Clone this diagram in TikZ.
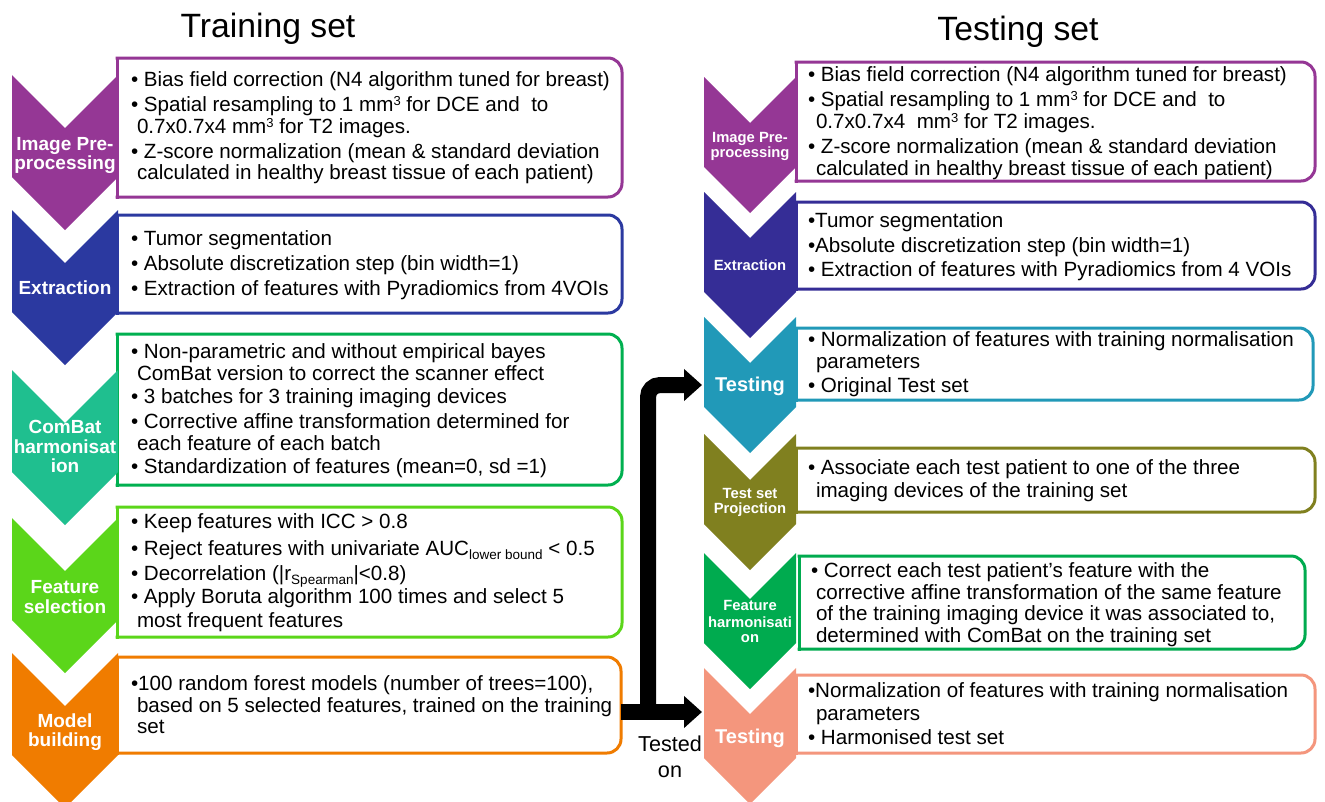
\documentclass[tikz,border=0pt]{standalone}
\usepackage{fontspec}
\setmainfont{Liberation Sans}
\usetikzlibrary{arrows.meta}

\definecolor{cpurple}{RGB}{149,55,149}
\definecolor{cblueL}{RGB}{43,57,160}
\definecolor{cblueR}{RGB}{53,45,150}
\definecolor{cteal}{RGB}{31,191,143}
\definecolor{cgreenbox}{RGB}{0,176,80}
\definecolor{clime}{RGB}{91,214,26}
\definecolor{corange}{RGB}{240,124,0}
\definecolor{ccyan}{RGB}{33,153,184}
\definecolor{colive}{RGB}{128,128,31}
\definecolor{cgreen}{RGB}{0,171,79}
\definecolor{csalmon}{RGB}{244,150,125}

% small raised / lowered text for units and indices
\newcommand{\sups}[1]{\raisebox{5.5pt}{\fontsize{13}{13}\selectfont #1}}
\newcommand{\subs}[1]{\raisebox{-4pt}{\fontsize{13.5}{13.5}\selectfont #1}}

\tikzset{
  txt/.style={anchor=base west, inner sep=0pt, outer sep=0pt, font=\fontsize{20.6}{22}\selectfont},
  lab/.style={anchor=base, inner sep=0pt, outer sep=0pt, text=white, font=\bfseries\fontsize{19}{19}\selectfont},
  labs/.style={lab, font=\bfseries\fontsize{14.8}{15}\selectfont},
  labt/.style={lab, font=\bfseries\fontsize{20}{20}\selectfont},
  title/.style={anchor=base, inner sep=0pt, font=\fontsize{33.7}{34}\selectfont},
  spot/.style={inner sep=0pt, outer sep=0pt, minimum size=0pt},
  frame/.style={line width=3pt, rounded corners=14pt, line cap=rect},
  flow/.style={line width=16pt, -{Triangle[length=18pt,width=31pt]}}
}

% text panel: square corners on the left, rounded on the right
\newcommand{\panel}[6]{%
  \node[spot, anchor=north west, minimum width=#4pt, minimum height=#5pt] (#1) at (#2,#3) {};
  \draw[frame, #6] (#1.north west) -- (#1.north east) -- (#1.south east) -- (#1.south west);
  \draw[line width=3pt, line cap=rect, #6] (#1.south west) -- (#1.north west);
}
% downward chevron: left x, top y, width, height, colour
\newcommand{\chevron}[5]{%
  \fill[#5] (#1,#2) -- ({#1+#3/2},{#2+#3/2}) -- ({#1+#3},#2) -- ({#1+#3},{#2+#4-#3/2})
     -- ({#1+#3/2},{#2+#4}) -- (#1,{#2+#4-#3/2}) -- cycle;
}

\begin{document}
\begin{tikzpicture}[x=1pt, y=-1pt]
\fill[white] (0,0) rectangle (1325,801);
\useasboundingbox (0,0) rectangle (1325,801);
\clip (0,0) rectangle (1325,801);

% titles
\node[title] (ttrain) at (268,37) {Training set};
\node[title] (ttest) at (1018,40) {Testing set};

% ---------- training column ----------
\panel{lb1}{117}{58}{505}{139}{cpurple}
\panel{lb2}{117}{215}{505}{98}{cblueL}
\panel{lb3}{117}{334}{505}{151}{cgreenbox}
\panel{lb4}{117}{507}{505}{130}{clime}
\panel{lb5}{117}{657}{504}{96}{corange}

\chevron{12}{75}{106}{155}{cpurple}
\chevron{12}{210}{106}{155}{cblueL}
\chevron{12}{370}{106}{155}{cteal}
\chevron{12}{518}{106}{155}{clime}
\chevron{12}{653}{106}{155}{corange}

\foreach \yy/\tx [count=\i] in {150/{Image Pre-}, 169/processing, 294/Extraction,
    433/ComBat, 453/harmonisat, 472/ion, 593/Feature, 613/selection,
    727/Model, 746/building}
  \node[lab] (ll-\i) at (65,\yy) {\tx};

\foreach \yy/\xx/\tx [count=\i] in {
    86/131/{• Bias field correction (N4 algorithm tuned for breast)},
    111/131/{• Spatial resampling to 1 mm\sups{3} for DCE and~ to},
    133/137/{0.7x0.7x4 mm\sups{3} for T2 images.},
    158/131/{• Z-score normalization (mean \& standard deviation},
    179/137/{calculated in healthy breast tissue of each patient)},
    245/131/{• Tumor segmentation},
    270/131/{• Absolute discretization step (bin width=1)},
    295/131/{• Extraction of features with Pyradiomics from 4VOIs},
    358/131/{• Non-parametric and without empirical bayes},
    380/137/{ComBat version to correct the scanner effect},
    403/131/{• 3 batches for 3 training imaging devices},
    428/131/{• Corrective affine transformation determined for},
    450/137/{each feature of each batch},
    473/131/{• Standardization of features (mean=0, sd =1)},
    528/131/{• Keep features with ICC > 0.8},
    555/131/{• Reject features with univariate AUC\subs{lower bound} < 0.5},
    580/131/{• Decorrelation (|r\subs{Spearman}|<0.8)},
    603/131/{• Apply Boruta algorithm 100 times and select 5},
    627/137/{most frequent features},
    690/131/{•100 random forest models (number of trees=100),},
    712/137/{based on 5 selected features, trained on the training},
    733/137/{set}}
  \node[txt] (lt-\i) at (\xx,\yy) {\tx};

% ---------- testing column ----------
\panel{rb1}{796}{62}{519}{119}{cpurple}
\panel{rb2}{796}{202}{519}{87}{cblueR}
\panel{rb3}{796}{328}{517}{72}{ccyan}
\panel{rb4}{796}{448}{519}{64}{colive}
\panel{rb5}{799}{556}{506}{93}{cgreen}
\panel{rb6}{796}{675}{519}{78}{csalmon}

\chevron{704}{77}{92}{136}{cpurple}
\chevron{704}{192}{92}{146}{cblueR}
\chevron{704}{317}{92}{136}{ccyan}
\chevron{704}{434}{92}{136}{colive}
\chevron{704}{553}{92}{136}{cgreen}
\chevron{704}{668}{92}{136}{csalmon}

\foreach \yy/\tx [count=\i] in {142/{Image Pre-}, 157/processing, 270/Extraction,
    498/{Test set}, 513/Projection, 610/Feature, 627/harmonisati, 642/on}
  \node[labs] (rl-\i) at (750,\yy) {\tx};
\node[labt] (rtest1) at (750,391) {Testing};
\node[labt] (rtest2) at (750,743) {Testing};

\foreach \yy/\xx/\tx [count=\i] in {
    81/808/{• Bias field correction (N4 algorithm tuned for breast)},
    106/808/{• Spatial resampling to 1 mm\sups{3} for DCE and~ to},
    128/816/{0.7x0.7x4~ mm\sups{3} for T2 images.},
    153/808/{• Z-score normalization (mean \& standard deviation},
    175/816/{calculated in healthy breast tissue of each patient)},
    227/808/{•Tumor segmentation},
    252/808/{•Absolute discretization step (bin width=1)},
    276/808/{• Extraction of features with Pyradiomics from 4 VOIs},
    346/808/{• Normalization of features with training normalisation},
    368/816/{parameters},
    392/808/{• Original Test set},
    474/808/{• Associate each test patient to one of the three},
    497/816/{imaging devices of the training set},
    577/811/{• Correct each test patient’s feature with the},
    599/816/{corrective affine transformation of the same feature},
    620/816/{of the training imaging device it was associated to,},
    642/816/{determined with ComBat on the training set},
    697/808/{•Normalization of features with training normalisation},
    720/816/{parameters},
    744/808/{• Harmonised test set}}
  \node[txt] (rt-\i) at (\xx,\yy) {\tx};

% ---------- "tested on" connector ----------
\coordinate (split) at (648,712);
\coordinate (tin) at (702,385);
\coordinate (bin) at (702,712);
\draw[flow] ([yshift=-7pt]lb5.east) -- (bin);
\draw[flow, rounded corners=12pt] (split) |- (tin);
\node[anchor=base, inner sep=0pt, font=\fontsize{21.6}{22}\selectfont] (tested) at (670,751) {Tested};
\node[anchor=base, inner sep=0pt, font=\fontsize{21.6}{22}\selectfont] (on) at (670,777) {on};
\end{tikzpicture}
\end{document}
